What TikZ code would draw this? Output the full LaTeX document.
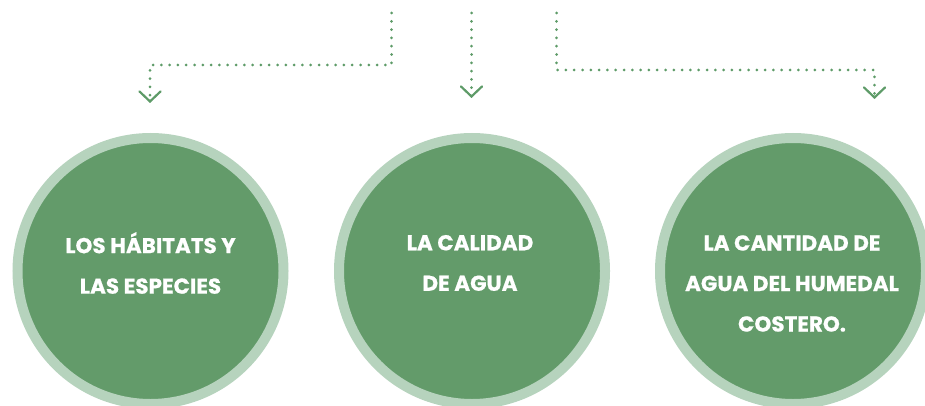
\documentclass[tikz,border=0pt]{standalone}
\usepackage{fontspec}
\setmainfont{Poppins}[BoldFont={Poppins Bold}, BoldFeatures={FakeBold=0.6}]
\usetikzlibrary{arrows.meta}
\definecolor{ringgreen}{HTML}{B6D3BD}
\definecolor{fillgreen}{HTML}{639B6A}
\definecolor{dotgreen}{HTML}{5E9B68}
\tikzset{
  bubble/.style={circle, fill=fillgreen, draw=ringgreen, line width=10pt, minimum size=266pt, inner sep=0pt},
  bubbletext/.style={text=white, align=center, font=\bfseries\fontsize{21.5}{40.5}\selectfont},
  dotline/.style={draw=dotgreen, line width=3pt, line cap=round, dash pattern=on 0pt off 8.3pt,
    -{Straight Barb[length=10pt, width=21pt, line width=2.2pt, line cap=round]}},
}
\begin{document}
\begin{tikzpicture}[x=1pt, y=-1pt]
\clip (0,0) rectangle (925,406);
\node[bubble] (c1) at (150.5,271) {};
\node[bubble] (c2) at (472,271) {};
\node[bubble] (c3) at (793,271) {};
\node[bubbletext] (t1) at (150.5,263) {LOS HÁBITATS Y\\LAS ESPECIES};
\node[bubbletext] (t2) at (470,263) {LA CALIDAD\\DE AGUA};
\node[bubbletext] (t3) at (792,283.5) {LA CANTIDAD DE\\AGUA DEL HUMEDAL\\COSTERO.};
\coordinate (s1) at (391.5,13);
\coordinate (k1) at (150,65);
\coordinate (e1) at (150,103);
\coordinate (s2) at (471.5,13);
\coordinate (e2) at (471.5,98);
\coordinate (s3) at (556.5,13);
\coordinate (k3) at (874.5,70);
\coordinate (e3) at (874.5,99);
\draw[dotline] (s1) |- (k1) -- (e1);
\draw[dotline] (s2) -- (e2);
\draw[dotline] (s3) |- (k3) -- (e3);
\end{tikzpicture}
\end{document}
